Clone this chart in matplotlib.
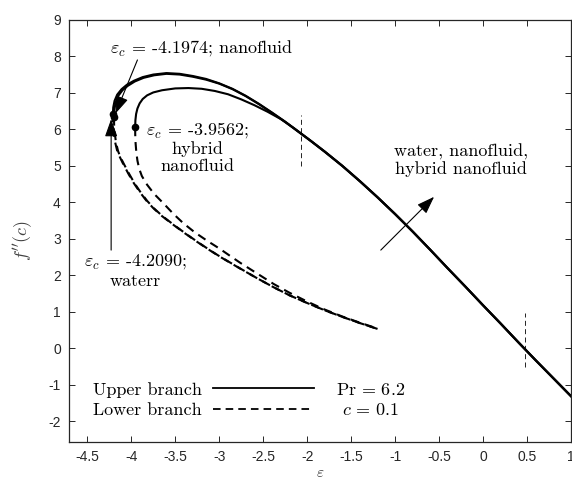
import matplotlib
matplotlib.use("Agg")
import matplotlib.pyplot as plt
from matplotlib.lines import Line2D

plt.rcParams['mathtext.fontset'] = 'cm'
plt.rcParams['axes.unicode_minus'] = False

# ---------------- data ----------------
eps_up_water = [-4.209, -4.205, -4.190, -4.160, -4.110, -4.050, -3.970, -3.870, -3.750, -3.600,
                -3.450, -3.300, -3.150, -3.000, -2.850, -2.700, -2.550, -2.400, -2.250, -2.100,
                -1.950, -1.800, -1.600, -1.400, -1.200, -1.000, -0.800, -0.600, -0.400, -0.200,
                0.000, 0.200, 0.400, 0.600, 0.800, 1.000]
f_up_water = [6.43, 6.60, 6.78, 6.95, 7.10, 7.22, 7.33, 7.43, 7.50, 7.54,
              7.52, 7.46, 7.38, 7.26, 7.11, 6.92, 6.70, 6.46, 6.21, 5.94,
              5.67, 5.39, 5.00, 4.58, 4.14, 3.68, 3.20, 2.70, 2.19, 1.69,
              1.18, 0.68, 0.17, -0.33, -0.82, -1.31]

eps_up_nano = [-4.197, -4.193, -4.178, -4.150, -4.100, -4.040, -3.960, -3.860, -3.740, -3.600,
               -3.450, -3.300, -3.150, -3.000, -2.850, -2.700, -2.550, -2.400, -2.250, -2.100,
               -1.950, -1.800, -1.600, -1.400, -1.200, -1.000, -0.800, -0.600, -0.400, -0.200,
               0.000, 0.200, 0.400, 0.600, 0.800, 1.000]
f_up_nano = [6.34, 6.53, 6.73, 6.91, 7.07, 7.19, 7.31, 7.41, 7.48, 7.52,
             7.50, 7.44, 7.36, 7.25, 7.10, 6.91, 6.69, 6.45, 6.20, 5.93,
             5.66, 5.38, 4.99, 4.57, 4.13, 3.67, 3.19, 2.69, 2.18, 1.68,
             1.17, 0.67, 0.16, -0.34, -0.83, -1.32]

eps_up_hyb = [-3.956, -3.953, -3.945, -3.930, -3.905, -3.870, -3.820, -3.750, -3.650, -3.500,
              -3.350, -3.200, -3.050, -2.900, -2.750, -2.600, -2.450, -2.300, -2.150, -2.000,
              -1.800, -1.600, -1.400, -1.200, -1.000, -0.800, -0.600, -0.400, -0.200,
              0.000, 0.200, 0.400, 0.600, 0.800, 1.000]
f_up_hyb = [6.05, 6.25, 6.42, 6.57, 6.71, 6.83, 6.93, 7.01, 7.07, 7.12,
            7.13, 7.11, 7.05, 6.96, 6.82, 6.66, 6.48, 6.28, 6.03, 5.76,
            5.39, 5.00, 4.58, 4.14, 3.68, 3.20, 2.70, 2.19, 1.69,
            1.18, 0.68, 0.17, -0.33, -0.82, -1.31]

eps_lo_water = [-4.209, -4.207, -4.200, -4.185, -4.160, -4.130, -4.090, -4.030, -3.970, -3.900,
                -3.830, -3.750, -3.650, -3.520, -3.390, -3.260, -3.130, -3.000, -2.880, -2.760,
                -2.570, -2.380, -2.200, -2.000, -1.800, -1.600, -1.400, -1.200]
f_lo_water = [6.43, 6.18, 5.93, 5.66, 5.41, 5.24, 5.04, 4.77, 4.52, 4.27,
              4.05, 3.84, 3.62, 3.38, 3.15, 2.93, 2.72, 2.52, 2.35, 2.18,
              1.92, 1.67, 1.45, 1.24, 1.04, 0.86, 0.69, 0.53]

eps_lo_nano = [-4.197, -4.195, -4.188, -4.174, -4.150, -4.120, -4.080, -4.020, -3.960, -3.890,
               -3.820, -3.740, -3.640, -3.510, -3.380, -3.250, -3.120, -2.990, -2.870, -2.750,
               -2.570, -2.380, -2.200, -2.000, -1.800, -1.600, -1.400, -1.200]
f_lo_nano = [6.34, 6.12, 5.90, 5.64, 5.40, 5.22, 5.03, 4.76, 4.51, 4.26,
             4.04, 3.83, 3.61, 3.37, 3.14, 2.92, 2.71, 2.51, 2.34, 2.17,
             1.92, 1.67, 1.45, 1.24, 1.04, 0.86, 0.69, 0.53]

eps_lo_hyb = [-3.956, -3.955, -3.951, -3.943, -3.930, -3.910, -3.880, -3.820, -3.740, -3.630,
              -3.520, -3.410, -3.280, -3.140, -2.990, -2.870, -2.760, -2.570, -2.380, -2.200,
              -2.000, -1.800, -1.600, -1.400, -1.200]
f_lo_hyb = [6.05, 5.85, 5.62, 5.38, 5.14, 4.92, 4.72, 4.48, 4.23, 3.96,
            3.68, 3.43, 3.18, 2.95, 2.72, 2.52, 2.34, 2.05, 1.76, 1.52,
            1.28, 1.06, 0.87, 0.70, 0.54]

xticks = [-4.5, -4, -3.5, -3, -2.5, -2, -1.5, -1, -0.5, 0, 0.5, 1]
xtick_labels = ['-4.5', '-4', '-3.5', '-3', '-2.5', '-2', '-1.5', '-1', '-0.5', '0', '0.5', '1']
yticks = [-2, -1, 0, 1, 2, 3, 4, 5, 6, 7, 8, 9]
ytick_labels = ['-2', '-1', '0', '1', '2', '3', '4', '5', '6', '7', '8', '9']

# ---------------- figure ----------------
fig = plt.figure(figsize=(5.72, 4.83), dpi=100)
ax = fig.add_axes([0.1208, 0.0855, 0.8775, 0.8735])

lw_up = 1.5
lw_lo = 1.5
dash = (0, (4.2, 2.8))
for e, f in [(eps_up_water, f_up_water), (eps_up_nano, f_up_nano), (eps_up_hyb, f_up_hyb)]:
    ax.plot(e, f, color='k', lw=lw_up, solid_joinstyle='round')
for e, f in [(eps_lo_water, f_lo_water), (eps_lo_nano, f_lo_nano), (eps_lo_hyb, f_lo_hyb)]:
    ax.plot(e, f, color='k', lw=lw_lo, linestyle=dash)

# turning points
ax.plot([eps_up_water[0], eps_up_nano[0], eps_up_hyb[0]],
        [f_up_water[0], f_up_nano[0], f_up_hyb[0]], 'o', color='k', ms=4.5, zorder=5)

# small vertical dashed markers
ax.plot([-2.07, -2.07], [4.99, 6.39], color='k', lw=0.6, linestyle=(0, (6, 4)))
ax.plot([0.48, 0.48], [-0.50, 0.96], color='k', lw=0.6, linestyle=(0, (6, 4)))

ax.set_xlim(-4.707, 1.0)
ax.set_ylim(-2.56, 9.0)
ax.set_xticks(xticks)
ax.set_xticklabels(xtick_labels)
ax.set_yticks(yticks)
ax.set_yticklabels(ytick_labels)

axc = '#262626'
for s in ax.spines.values():
    s.set_color(axc)
    s.set_linewidth(0.9)
ax.tick_params(direction='in', length=4.5, width=0.7, color=axc, top=True, right=True,
               labelsize=10, labelcolor=axc, pad=6)
for lab in ax.get_xticklabels() + ax.get_yticklabels():
    lab.set_fontfamily('Liberation Sans')

ax.set_ylabel(r"$f''(c)$", fontsize=13, color='#404040')
ax.yaxis.set_label_coords(-0.068, 0.478)
ax.set_xlabel(r"$\varepsilon$", fontsize=11, color='#404040', labelpad=1)

tfs = 13
tfam = 'cmr10'
# annotations
ax.text(-3.194, 8.22, r"$\varepsilon_c$ = -4.1974; nanofluid", fontsize=tfs, family=tfam,
        ha='center', va='center')
ax.text(-3.245, 5.51, "$\\varepsilon_c$ = -3.9562;\nhybrid\nnanofluid", fontsize=tfs, family=tfam,
        ha='center', va='center', multialignment='center', linespacing=1.12)
ax.text(-3.95, 2.12, "$\\varepsilon_c$ = -4.2090;\nwaterr", fontsize=tfs, family=tfam,
        ha='center', va='center', multialignment='center', linespacing=1.2)
ax.text(-0.248, 5.15, "water, nanofluid,\nhybrid nanofluid", fontsize=tfs, family=tfam,
        ha='center', va='center', multialignment='center', linespacing=1.15)

ap = dict(arrowstyle='-|>,head_length=0.9,head_width=0.32', lw=0.8, color='k',
          shrinkA=0, shrinkB=0, mutation_scale=12)
ax.annotate('', xy=(-4.18, 6.43), xytext=(-3.93, 7.90), arrowprops=ap)
ax.annotate('', xy=(-4.229, 6.28), xytext=(-4.229, 2.69), arrowprops=ap)
ax.annotate('', xy=(-0.557, 4.15), xytext=(-1.163, 2.69), arrowprops=ap)

# legend (text then line)
h_up = Line2D([], [], color='k', lw=1.3)
h_lo = Line2D([], [], color='k', lw=1.3, linestyle=dash)
leg = ax.legend([h_up, h_lo], ['Upper branch', 'Lower branch'], markerfirst=False,
                frameon=False, loc='lower left', bbox_to_anchor=(0.015, 0.017),
                handlelength=5.6, handletextpad=0.6, labelspacing=0.27,
                prop={'family': tfam, 'size': tfs})

ax.text(-1.277, -1.14, r"$\mathrm{Pr}\,=\,6.2$", fontsize=tfs, ha='center', va='center')
ax.text(-1.277, -1.69, r"$c\,=\,0.1$", fontsize=tfs, ha='center', va='center')

fig.savefig('out.png', dpi=100)
